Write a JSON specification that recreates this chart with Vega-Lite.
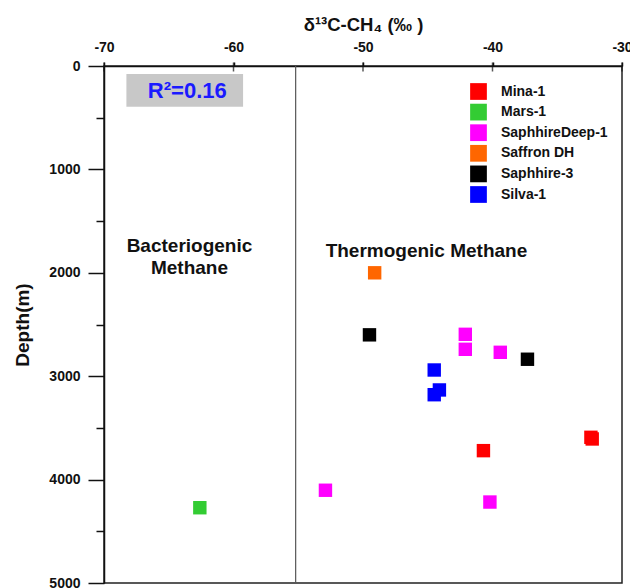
{
  "$schema": "https://vega.github.io/schema/vega-lite/v6.json",
  "width": 518,
  "height": 517,
  "autosize": {"type": "none"},
  "padding": {"left": 104, "top": 66, "right": 8, "bottom": 5},
  "config": {
    "font": "Liberation Sans",
    "view": {"stroke": "#222", "strokeWidth": 1.5},
    "axis": {"labelFont": "Liberation Sans", "titleFont": "Liberation Sans", "labelFontWeight": "bold", "titleFontWeight": "bold", "labelColor": "#111", "titleColor": "#111", "domainColor": "#111", "tickColor": "#111", "domainWidth": 1.5, "tickWidth": 1.5, "grid": false}
  },
  "encoding": {
    "x": {"field": "x", "type": "quantitative", "scale": {"domain": [-70, -30], "nice": false, "zero": false},
      "axis": {"orient": "top", "title": "δ¹³C-CH₄ (‰ )", "values": [-70, -60, -50, -40, -30], "labelExpr": "toString(datum.value)", "labelFontSize": 14, "titleFontSize": 18.5, "tickSize": 4, "labelPadding": 7.5, "titlePadding": 6.5, "labelFlush": false}},
    "y": {"field": "y", "type": "quantitative", "scale": {"domain": [0, 5000], "reverse": true, "nice": false},
      "axis": {"title": "Depth(m)", "values": [0, 500, 1000, 1500, 2000, 2500, 3000, 3500, 4000, 4500, 5000], "labelExpr": "datum.value % 1000 == 0 ? toString(datum.value) : ''", "labelFontSize": 14, "titleFontSize": 19, "tickSize": {"condition": {"test": "datum.value % 1000 == 0", "value": 16}, "value": 8}, "labelPadding": 8, "titlePadding": 16}}
  },
  "layer": [
    {
      "data": {"values": [{"x": -55.2, "y": 0, "y2": 5000}]},
      "mark": {"type": "rule", "color": "#555", "strokeWidth": 1.2},
      "encoding": {"y2": {"field": "y2"}}
    },
    {
      "data": {"values": [{"x": -70, "y": 0}, {"x": -60, "y": 0}, {"x": -50, "y": 0}, {"x": -40, "y": 0}, {"x": -30, "y": 0}]},
      "mark": {"type": "tick", "orient": "vertical", "size": 9, "thickness": 1.5, "yOffset": 1, "color": "#111"},
      "encoding": {}
    },
    {
      "data": {"values": [{"x": -68.27, "x2": -59.26, "y": 77, "y2": 394}]},
      "mark": {"type": "rect", "color": "#c8c8c8"},
      "encoding": {"x2": {"field": "x2"}, "y2": {"field": "y2"}}
    },
    {
      "data": {"values": [{"x": -63.57, "y": 245, "label": "R²=0.16"}]},
      "mark": {"type": "text", "color": "#1a1aff", "fontSize": 22, "fontWeight": "bold"},
      "encoding": {"text": {"field": "label"}}
    },
    {
      "data": {"values": [
        {"x": -63.4, "y": 1743, "label": "Bacteriogenic\nMethane"},
        {"x": -45.1, "y": 1785, "label": "Thermogenic Methane"}
      ]},
      "mark": {"type": "text", "fontSize": 19, "fontWeight": "bold", "color": "#111", "lineBreak": "\n", "lineHeight": 22},
      "encoding": {"text": {"field": "label"}}
    },
    {
      "data": {"values": [
        {"well": "Saffron DH", "x": -49.1, "y": 2000},
        {"well": "Saphhire-3", "x": -49.5, "y": 2600},
        {"well": "Saphhire-3", "x": -37.3, "y": 2836},
        {"well": "SaphhireDeep-1", "x": -42.1, "y": 2595},
        {"well": "SaphhireDeep-1", "x": -42.1, "y": 2740},
        {"well": "SaphhireDeep-1", "x": -39.4, "y": 2769},
        {"well": "SaphhireDeep-1", "x": -52.9, "y": 4103},
        {"well": "SaphhireDeep-1", "x": -40.2, "y": 4217},
        {"well": "Silva-1", "x": -44.5, "y": 2940},
        {"well": "Silva-1", "x": -44.1, "y": 3133},
        {"well": "Silva-1", "x": -44.5, "y": 3179},
        {"well": "Mina-1", "x": -40.7, "y": 3720},
        {"well": "Mina-1", "x": -32.4, "y": 3591},
        {"well": "Mina-1", "x": -32.3, "y": 3607},
        {"well": "Mars-1", "x": -62.6, "y": 4272}
      ]},
      "mark": {"type": "square", "size": 180, "opacity": 1, "filled": true},
      "encoding": {
        "color": {"field": "well", "type": "nominal",
          "scale": {"domain": ["Mina-1", "Mars-1", "SaphhireDeep-1", "Saffron DH", "Saphhire-3", "Silva-1"], "range": ["#ff0000", "#33cc33", "#ff00ff", "#ff6600", "#000000", "#0000ff"]},
          "legend": {"title": null, "orient": "none", "legendX": 366, "legendY": 17, "symbolType": "square", "symbolSize": 280, "symbolOpacity": 1, "symbolStrokeWidth": 0, "labelFontSize": 14, "labelFontWeight": "bold", "labelFont": "Liberation Sans", "labelColor": "#111", "labelOffset": 14, "rowPadding": 3.6}}
      }
    }
  ]
}
